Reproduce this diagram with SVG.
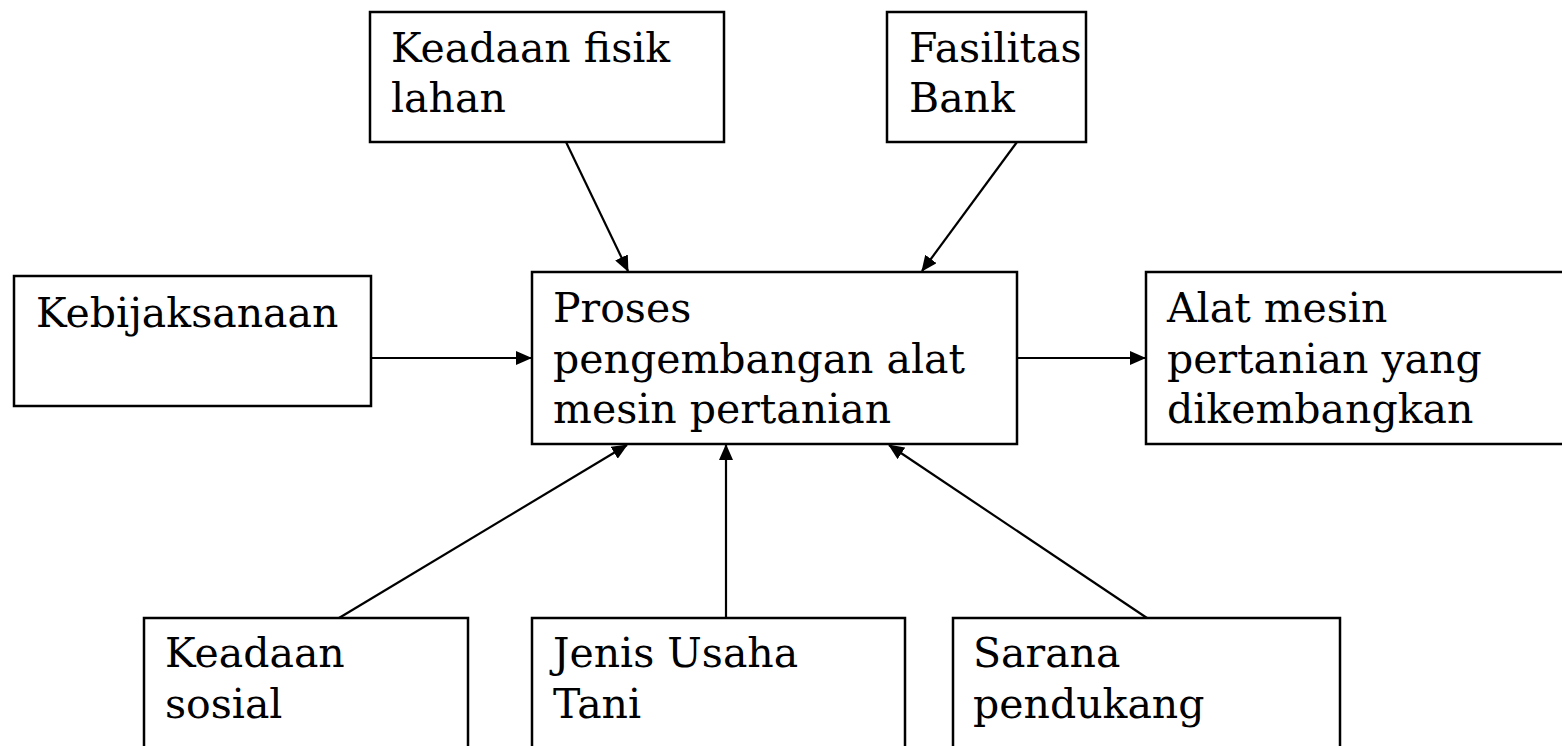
<svg xmlns="http://www.w3.org/2000/svg" width="1562" height="746" viewBox="0 0 1562 746">
<style>
.box{fill:#fff;stroke:#000;stroke-width:2.5}
.t{font-family:"DejaVu Serif","Liberation Serif",serif;font-size:41px;fill:#000}
.c{stroke:#000;stroke-width:2.2;fill:none;marker-end:url(#ah)}
</style>
<defs>
<marker id="ah" markerWidth="16" markerHeight="14" refX="15" refY="7" orient="auto" markerUnits="userSpaceOnUse">
<path d="M0,0 L16,7 L0,14 Z" fill="#000"/>
</marker>
</defs>
<rect width="1562" height="746" fill="#fff"/>
<g id="connectors">
<line class="c" x1="566" y1="142" x2="628" y2="271"/>
<line class="c" x1="1017" y1="142" x2="922" y2="271"/>
<line class="c" x1="371" y1="358" x2="531" y2="358"/>
<line class="c" x1="1017" y1="358" x2="1145" y2="358"/>
<line class="c" x1="339" y1="618" x2="627" y2="445"/>
<line class="c" x1="726" y1="618" x2="726" y2="445"/>
<line class="c" x1="1147" y1="618" x2="889" y2="445"/>
</g>
<g id="n-fisik">
<rect class="box" x="370" y="12" width="354" height="130"/>
<text class="t" x="391" y="62">Keadaan fisik</text>
<text class="t" x="391" y="112">lahan</text>
</g>
<g id="n-bank">
<rect class="box" x="887" y="12" width="199" height="130"/>
<text class="t" x="909" y="62">Fasilitas</text>
<text class="t" x="909" y="112">Bank</text>
</g>
<g id="n-kebijakan">
<rect class="box" x="14" y="276" width="357" height="130"/>
<text class="t" x="36" y="327">Kebijaksanaan</text>
</g>
<g id="n-proses">
<rect class="box" x="532" y="272" width="485" height="172"/>
<text class="t" x="553" y="322">Proses</text>
<text class="t" x="553" y="373">pengembangan alat</text>
<text class="t" x="553" y="423">mesin pertanian</text>
</g>
<g id="n-alat">
<rect class="box" x="1146" y="272" width="430" height="172"/>
<text class="t" x="1167" y="322">Alat mesin</text>
<text class="t" x="1167" y="373">pertanian yang</text>
<text class="t" x="1167" y="423">dikembangkan</text>
</g>
<g id="n-sosial">
<rect class="box" x="144" y="618" width="324" height="150"/>
<text class="t" x="165" y="667">Keadaan</text>
<text class="t" x="165" y="718">sosial</text>
</g>
<g id="n-usaha">
<rect class="box" x="532" y="618" width="373" height="150"/>
<text class="t" x="553" y="667">Jenis Usaha</text>
<text class="t" x="553" y="718">Tani</text>
</g>
<g id="n-sarana">
<rect class="box" x="953" y="618" width="387" height="150"/>
<text class="t" x="973" y="667">Sarana</text>
<text class="t" x="973" y="718">pendukang</text>
</g>
</svg>
